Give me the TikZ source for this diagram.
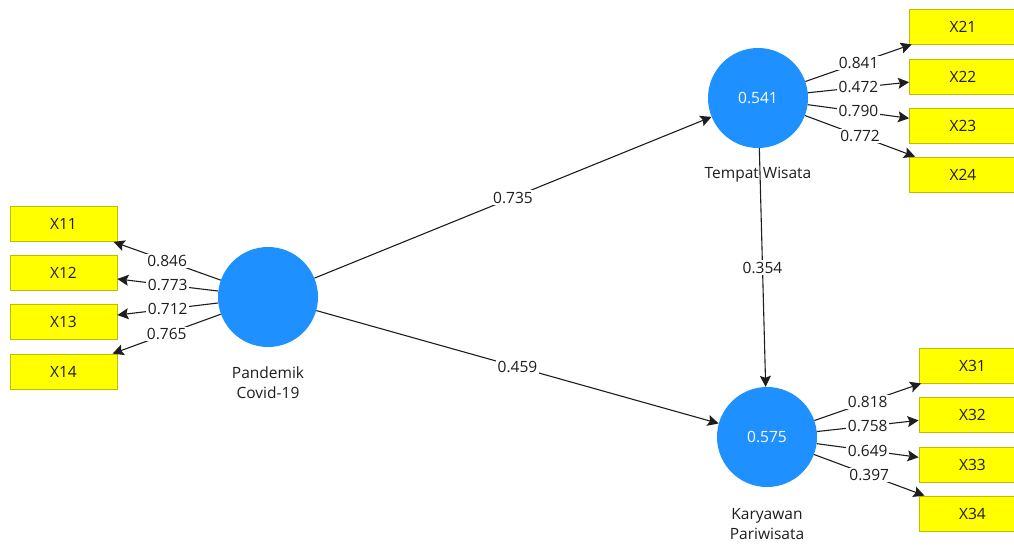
\documentclass[tikz,border=0pt]{standalone}
\usepackage{fontspec}
\setmainfont{Open Sans}
\usetikzlibrary{arrows.meta}
\definecolor{lvblue}{RGB}{30,144,255}
\definecolor{mvyellow}{RGB}{255,255,0}
\definecolor{mvborder}{RGB}{190,190,0}
\definecolor{ink}{RGB}{30,30,30}
\begin{document}
\begin{tikzpicture}[x=1pt,y=-1pt,
  txt/.style={font=\fontsize{15.5}{20}\selectfont},
  indicator/.style={txt, draw=mvborder, fill=mvyellow, line width=0.8pt,
    minimum width=107pt, minimum height=35pt, inner sep=0pt, text=ink},
  latent/.style={txt, circle, fill=lvblue, minimum size=100pt, inner sep=0pt, text=white},
  lbl/.style={txt, text=ink, align=center, inner sep=0pt},
  link/.style={draw=ink, line width=1.1pt, -{Stealth[length=11pt,width=11pt,inset=2pt]}},
  wt/.style={txt, midway, fill=white, inner sep=1.5pt, text=ink}]
\useasboundingbox (0,0) rectangle (1014,544);
\clip (0,0) rectangle (1014,544);
\fill[white] (0,0) rectangle (1014,544);
% latent variables
\node[latent] (pc) at (268,297) {};
\node[latent] (tw) at (758,98) {0.541};
\node[latent] (kp) at (767,437) {0.575};
\node[lbl] (lpc) at (268,383) {Pandemik\\Covid-19};
\node[lbl] (ltw) at (758,175) {Tempat Wisata};
\node[lbl] (lkp) at (767,524) {Karyawan\\Pariwisata};
% indicators
\node[indicator] (x11) at (63.5,224) {X11};
\node[indicator] (x12) at (63.5,272.5) {X12};
\node[indicator] (x13) at (63.5,321.5) {X13};
\node[indicator] (x14) at (63.5,371.5) {X14};
\node[indicator] (x21) at (963,26.5) {X21};
\node[indicator] (x22) at (963,76.5) {X22};
\node[indicator] (x23) at (963,125.5) {X23};
\node[indicator] (x24) at (963,174.5) {X24};
\node[indicator] (x31) at (972.5,365.5) {X31};
\node[indicator] (x32) at (972.5,414.5) {X32};
\node[indicator] (x33) at (972.5,464.5) {X33};
\node[indicator] (x34) at (972.5,513.5) {X34};
% outer loadings
\draw[link] (pc) -- node[wt]{0.846} (x11);
\draw[link] (pc) -- node[wt]{0.773} (x12);
\draw[link] (pc) -- node[wt]{0.712} (x13);
\draw[link] (pc) -- node[wt]{0.765} (x14);
\draw[link] (tw) -- node[wt]{0.841} (x21);
\draw[link] (tw) -- node[wt]{0.472} (x22);
\draw[link] (tw) -- node[wt]{0.790} (x23);
\draw[link] (tw) -- node[wt]{0.772} (x24);
\draw[link] (kp) -- node[wt]{0.818} (x31);
\draw[link] (kp) -- node[wt]{0.758} (x32);
\draw[link] (kp) -- node[wt]{0.649} (x33);
\draw[link] (kp) -- node[wt]{0.397} (x34);
% structural paths
\draw[link] (pc) -- node[wt]{0.735} (tw);
\draw[link] (pc) -- node[wt]{0.459} (kp);
\draw[link] (tw) -- node[wt]{0.354} (kp);
\end{tikzpicture}
\end{document}
